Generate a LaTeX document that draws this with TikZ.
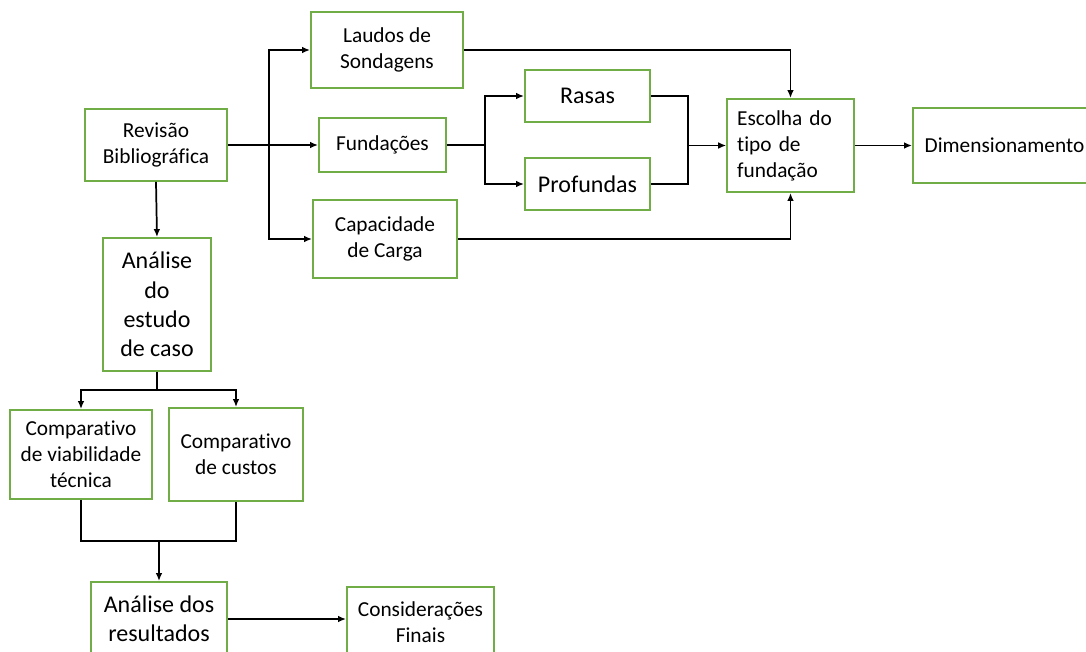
\documentclass[tikz,border=0pt]{standalone}
\usepackage{fontspec}
\setmainfont{Carlito}[Ligatures=NoCommon]
\usetikzlibrary{arrows.meta}
\definecolor{boxgreen}{HTML}{70AD47}
\tikzset{
  box/.style={draw=boxgreen,line width=1.4pt,align=center,inner sep=2pt,font=\fontsize{16}{19.5}\selectfont},
  bigbox/.style={box,font=\fontsize{18}{22}\selectfont},
  line/.style={line width=1.3pt},
  link/.style={line,-{Latex[length=6pt,width=5pt]}}
}
\begin{document}
\begin{tikzpicture}[x=0.75pt,y=-0.75pt]
\useasboundingbox (0,0) rectangle (1086,651);
\node[box,minimum width=114pt,minimum height=57pt] (laudos) at (387,50) {Laudos de\\Sondagens};
\node[box,minimum width=106.5pt,minimum height=54pt] (revisao) at (156,145) {Revisão\\Bibliográfica};
\node[box,minimum width=95.25pt,minimum height=40.5pt] (fund) at (382.5,145) {Fundações};
\node[box,minimum width=108pt,minimum height=58.5pt] (capac) at (385,239) {Capacidade\\de Carga};
\node[bigbox,minimum width=93.75pt,minimum height=39pt] (rasas) at (587.5,96) {Rasas};
\node[bigbox,minimum width=93.75pt,minimum height=39pt] (profundas) at (587.5,184) {Profundas};
\node[box,align=left,text width=80pt,inner xsep=7.5pt,minimum height=69.75pt] (escolha) at (790.5,145.5) {Escolha do\\tipo de\\fundação};
\node[box,minimum width=137.25pt,minimum height=56pt] (dimens) at (1004.5,145.5) {Dimensionamento};
\node[bigbox,minimum width=81pt,minimum height=99.75pt] (analise) at (157,304.5) {Análise\\do\\estudo\\de caso};
\node[box,minimum width=106.5pt,minimum height=66.75pt] (viab) at (81,454.5) {Comparativo\\de viabilidade\\técnica};
\node[box,minimum width=100.5pt,minimum height=69.75pt] (custos) at (236,454.5) {Comparativo\\de custos};
\node[bigbox,minimum width=102pt,minimum height=55.5pt] (result) at (159,619) {Análise dos\\resultados};
\node[box,minimum width=110.25pt,minimum height=52.5pt] (consid) at (420.5,622) {Considerações\\Finais};
\coordinate (jrev) at (269,145);
\coordinate (jfund) at (485,145);
\coordinate (jtipo) at (688,145.5);
\coordinate (jana) at (157,390);
\coordinate (jcomp) at (159,541);
\draw[link] (revisao.east) -- (fund.west);
\draw[link] (jrev) |- (laudos.west);
\draw[link] (jrev) |- (capac.west);
\draw[link] (laudos.east) -| (escolha.north);
\draw[line] (fund.east) -- (jfund);
\draw[link] (jfund) |- (rasas.west);
\draw[link] (jfund) |- (profundas.west);
\draw[line] (rasas.east) -| (jtipo) |- (profundas.east);
\draw[link] (jtipo) -- (escolha.west);
\draw[link] (capac.east) -| (escolha.south);
\draw[link] (escolha.east) -- (dimens.west);
\draw[link] (revisao.south) -- (analise.north);
\draw[line] (analise.south) -- (jana);
\draw[link] (jana) -| (viab.north);
\draw[link] (jana) -| (custos.north);
\draw[line] (viab.south) |- (jcomp) -| (custos.south);
\draw[link] (jcomp) -- (result.north);
\draw[link] (result.east) -- (result.east -| consid.west);
\end{tikzpicture}
\end{document}
